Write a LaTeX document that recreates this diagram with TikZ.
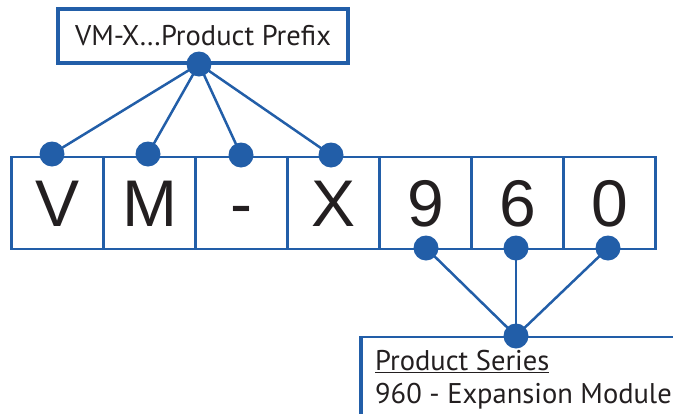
\documentclass[tikz,border=0pt]{standalone}
\usepackage{fontspec}
\newfontfamily\labelfont{PT Sans}
\newfontfamily\digitfont{Liberation Sans}
\definecolor{partblue}{RGB}{34,94,168}
\definecolor{partink}{RGB}{35,31,32}
\tikzset{
  cell/.style={draw=partblue, line width=2.5pt, rectangle, inner sep=0pt,
    minimum size=92pt, text height=47pt, text depth=0pt,
    font=\digitfont\fontsize{66}{66}\selectfont, text=partink},
  dot/.style={circle, fill=partblue, inner sep=0pt, minimum size=25pt},
  link/.style={draw=partblue, line width=2.5pt},
  caption/.style={font=\labelfont\fontsize{28.5}{28.5}\selectfont, text=partink, inner sep=0pt}
}
\begin{document}
\begin{tikzpicture}[x=1pt,y=-1pt]
		\useasboundingbox (0,0) rectangle (673,413);
		\clip (0,0) rectangle (673,413);
		
		% row of code cells
		\node[cell] (cV) at (57.5,203) {V};
		\node[cell] (cM) at (149.5,203) {M};
		\node[cell] (cDash) at (241.5,203) {-};
		\node[cell] (cX) at (333.5,203) {X};
		\node[cell] (c9) at (425.5,203) {9};
		\node[cell] (c6) at (517.5,203) {6};
		\node[cell] (c0) at (609.5,203) {0};
		
		% product prefix box
		\node[draw=partblue, line width=3.5pt, minimum width=290pt, minimum height=54pt,
		  caption] (prefix) at (203,36) {VM-X\ldots Product Prefix};
		
		% product series box
		\draw[partblue, line width=4pt](361,430)--(361,337);
		\draw[partblue, line width=2.5pt](359,337)--(690,337);
		\node[caption, anchor=base west] (series) at (375,370) {\underline{Product Series}};
		\node[caption, anchor=base west] (module) at (375,403) {960 - Expansion Module};
		
		% dots
		\node[dot] (dPrefix) at (199,64) {};
		\node[dot] (dV) at (52,154) {};
		\node[dot] (dM) at (148,154) {};
		\node[dot] (dDash) at (241,155) {};
		\node[dot] (dX) at (331,155) {};
		\node[dot] (d9) at (426,248) {};
		\node[dot] (d6) at (516,248) {};
		\node[dot] (d0) at (608,248) {};
		\node[dot] (dSeries) at (516,336) {};
		
		% connectors
		\draw[link](dPrefix.center)--(dV.center);
		\draw[link](dPrefix.center)--(dM.center);
		\draw[link](dPrefix.center)--(dDash.center);
		\draw[link](dPrefix.center)--(dX.center);
		\draw[link](dSeries.center)--(d9.center);
		\draw[link](dSeries.center)--(d6.center);
		\draw[link](dSeries.center)--(d0.center);
		\end{tikzpicture}
\end{document}
